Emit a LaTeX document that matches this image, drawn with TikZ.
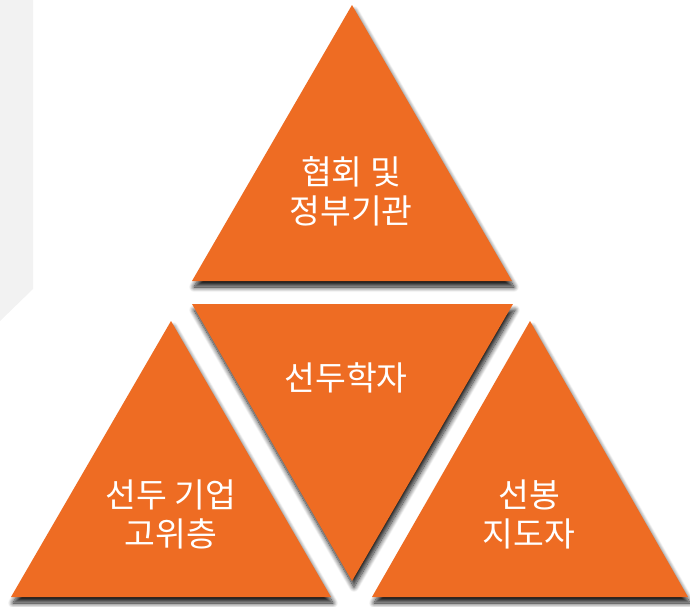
\documentclass[tikz,border=0pt]{standalone}
\usepackage{fontspec}
\newfontfamily\kofont{Noto Sans CJK KR}
\usetikzlibrary{shadows.blur}
\definecolor{tri}{RGB}{238,108,35}
\definecolor{panel}{RGB}{242,242,242}

\begin{document}
\begin{tikzpicture}[x=1pt, y=-1pt,
    tri/.style={fill=tri, blur shadow={shadow xshift=2pt, shadow yshift=-6pt, shadow blur radius=5pt, shadow blur steps=12, shadow opacity=90}},
    lbl/.style={text=white, align=center, font=\kofont\fontsize{33.5}{39}\selectfont, inner sep=0pt}]
      \useasboundingbox (0,0) rectangle (690,606);
      \fill[panel] (0,0) -- (33,0) -- (33,289) -- (0,321) -- cycle;

      \fill[tri] (352,5) -- (512,281) -- (192,281) -- cycle;
      \fill[tri] (192,304) -- (513,304) -- (352,581) -- cycle;
      \fill[tri] (171,321) -- (331,597) -- (11,597) -- cycle;
      \fill[tri] (530,321) -- (688,597) -- (372,597) -- cycle;

      \node[lbl] (assoc) at (351,191) {협회 및\\정부기관};
      \node[lbl] (scholar) at (346,378) {선두학자};
      \node[lbl] (exec) at (171,514) {선두 기업\\고위층};
      \node[lbl] (pioneer) at (529,514) {선봉\\지도자};
\end{tikzpicture}
\end{document}
